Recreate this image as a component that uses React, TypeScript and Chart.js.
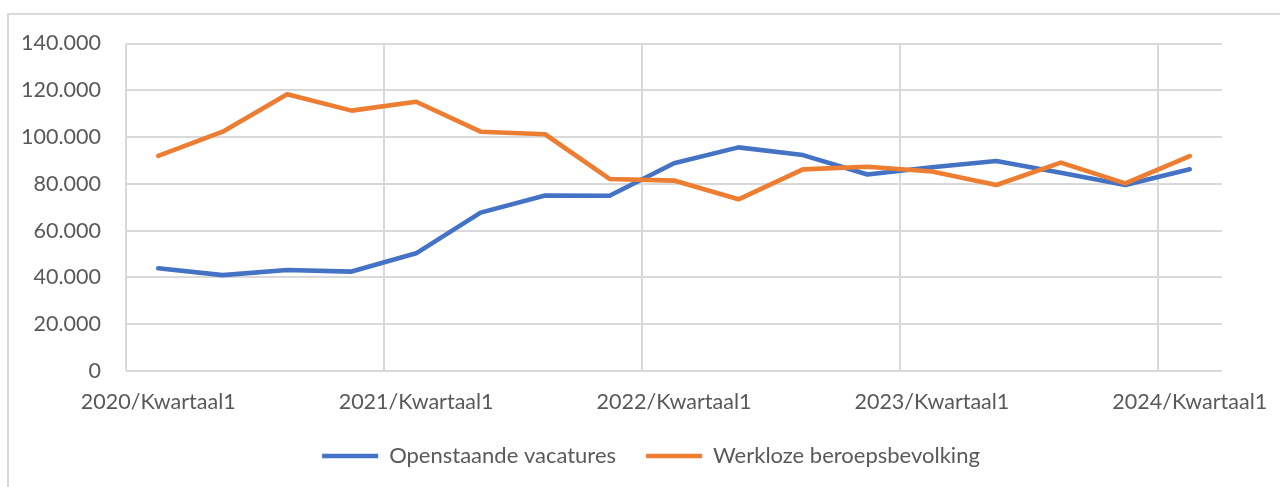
import React, { useEffect, useRef } from "react";
import { Chart, registerables } from "chart.js";

Chart.register(...registerables);

const categories = [
  "2020/Kwartaal1", "2020/Kwartaal2", "2020/Kwartaal3", "2020/Kwartaal4",
  "2021/Kwartaal1", "2021/Kwartaal2", "2021/Kwartaal3", "2021/Kwartaal4",
  "2022/Kwartaal1", "2022/Kwartaal2", "2022/Kwartaal3", "2022/Kwartaal4",
  "2023/Kwartaal1", "2023/Kwartaal2", "2023/Kwartaal3", "2023/Kwartaal4",
  "2024/Kwartaal1",
];

const vacatures = [
  43900, 41000, 43200, 42500, 50300, 67700, 75000, 74900, 88800, 95600, 92300,
  84000, 87100, 89800, 84700, 79500, 86200,
];

const werkloos = [
  92000, 102300, 118300, 111300, 115100, 102300, 101200, 82100, 81400, 73400,
  86200, 87300, 85300, 79500, 89100, 80200, 91900,
];

const yTicks = [0, 20000, 40000, 60000, 80000, 100000, 120000, 140000];

const seriesNames = ["Openstaande vacatures", "Werkloze beroepsbevolking"];
const BLUE = "#4472C4";
const ORANGE = "#ED7D31";
const GRID = "#d9d9d9";
const TEXT = "#595959";
const FONT = "Lato, 'Open Sans', sans-serif";

const PAD_LEFT = 22;

function fmt(v: number): string {
  return String(Math.round(v)).replace(/\B(?=(\d{3})+(?!\d))/g, ".");
}

export default function App() {
  const ref = useRef<HTMLCanvasElement | null>(null);

  useEffect(() => {
    if (!ref.current) return;
    const chart = new Chart(ref.current, {
      type: "line",
      data: {
        labels: categories,
        datasets: [
          {
            label: seriesNames[0],
            data: vacatures,
            borderColor: BLUE,
            backgroundColor: BLUE,
            borderWidth: 4.6,
            pointRadius: 0,
            tension: 0,
            borderCapStyle: "round",
            borderJoinStyle: "round",
            order: 1,
          },
          {
            label: seriesNames[1],
            data: werkloos,
            borderColor: ORANGE,
            backgroundColor: ORANGE,
            borderWidth: 4.6,
            pointRadius: 0,
            tension: 0,
            borderCapStyle: "round",
            borderJoinStyle: "round",
            order: 0,
          },
        ],
      },
      options: {
        responsive: false,
        animation: false,
        devicePixelRatio: 1,
        layout: { padding: { left: PAD_LEFT, right: 0, top: 43.5, bottom: 10 } },
        plugins: {
          tooltip: { enabled: false },
          legend: {
            position: "bottom",
            labels: {
              usePointStyle: true,
              pointStyle: "line",
              pointStyleWidth: 56,
              boxHeight: 4,
              padding: 30,
              color: TEXT,
              font: { family: FONT, size: 22 },
              sort: (a: any, b: any) => a.datasetIndex - b.datasetIndex,
            },
          },
        },
        scales: {
          x: {
            type: "category",
            offset: true,
            grid: {
              offset: true,
              drawTicks: false,
              tickLength: 0,
              lineWidth: 2,
              color: (ctx: any) =>
                typeof ctx.index === "number" && ctx.index % 4 === 0 ? GRID : "rgba(0,0,0,0)",
            },
            border: { display: false },
            ticks: {
              autoSkip: false,
              maxRotation: 0,
              minRotation: 0,
              padding: 18,
              color: TEXT,
              font: { family: FONT, size: 21.5 },
              callback: (_v: any, i: number) => (i % 4 === 0 ? categories[i] : ""),
            },
            afterFit: (scale: any) => {
              scale.paddingLeft = 0;
              scale.paddingRight = 0;
              scale.height = 44;
            },
          },
          y: {
            position: "left",
            min: 0,
            max: 140000,
            afterBuildTicks: (scale: any) => {
              scale.ticks = yTicks.map((v) => ({ value: v }));
            },
            grid: { drawTicks: false, tickLength: 0, lineWidth: 2, color: GRID },
            border: { display: false },
            ticks: {
              padding: 25,
              color: TEXT,
              font: { family: FONT, size: 21.5 },
              callback: (v: any) => fmt(Number(v)),
            },
            afterFit: (scale: any) => {
              scale.width = 126 - PAD_LEFT;
              scale.paddingTop = 0;
              scale.paddingBottom = 0;
            },
          },
          yRight: {
            type: "linear",
            position: "right",
            min: 0,
            max: 1,
            grid: { display: false, drawTicks: false },
            border: { display: false },
            ticks: { display: false },
            afterFit: (scale: any) => {
              scale.width = 58;
              scale.paddingTop = 0;
              scale.paddingBottom = 0;
            },
          },
        },
      },
    } as any);
    return () => chart.destroy();
  }, []);

  return (
    <div
      style={{
        position: "fixed",
        left: 0,
        top: 0,
        width: 1280,
        height: 487,
        overflow: "hidden",
        background: "#ffffff",
      }}
    >
      <div
        style={{
          position: "absolute",
          left: 7,
          top: 13,
          width: 1400,
          height: 600,
          borderLeft: "2px solid " + GRID,
          borderTop: "2px solid " + GRID,
        }}
      />
      <canvas
        ref={ref}
        width={1280}
        height={487}
        style={{ position: "absolute", left: 0, top: 0, width: 1280, height: 487 }}
      />
    </div>
  );
}
